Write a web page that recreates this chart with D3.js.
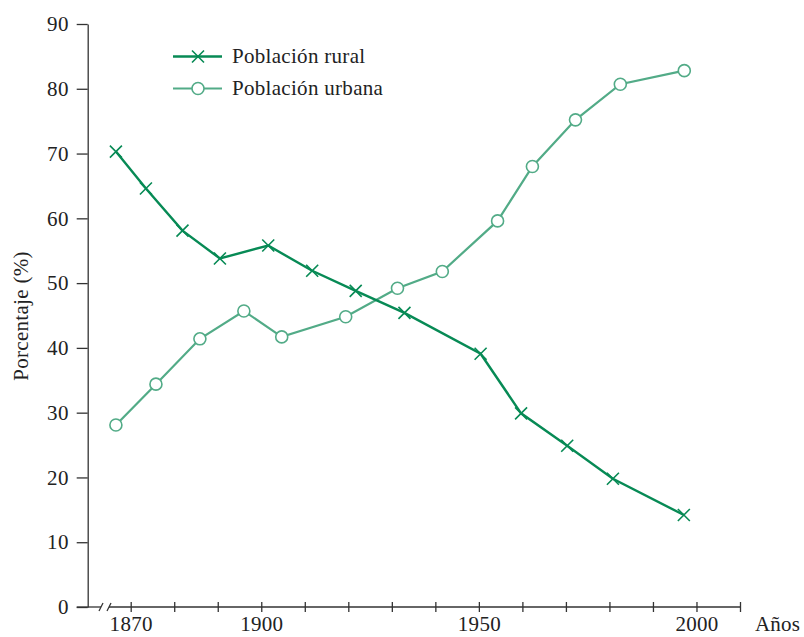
<!DOCTYPE html>
<html><head><meta charset="utf-8">
<script src="https://cdn.jsdelivr.net/npm/d3@7"></script>
<style>body{margin:0;background:#fff}svg text{font-family:"Liberation Serif","DejaVu Serif",serif;fill:#222;letter-spacing:0.3px}</style>
</head><body><svg id="c" width="804" height="637"></svg>
<script>
const yearsRural = [1866.6, 1873.5, 1881.9, 1890.5, 1901.6, 1911.7, 1921.7, 1932.9, 1950.4, 1959.7, 1970.3, 1980.8, 1997.1];
const rural      = [70.3, 64.6, 58.1, 53.8, 55.8, 51.9, 48.8, 45.4, 39.1, 29.9, 24.9, 19.8, 14.2];
const yearsUrban = [1866.6, 1875.8, 1885.9, 1896.0, 1904.7, 1919.4, 1931.3, 1941.6, 1954.3, 1962.3, 1972.2, 1982.5, 1997.2];
const urban      = [28.1, 34.4, 41.4, 45.7, 41.7, 44.8, 49.2, 51.8, 59.6, 68.0, 75.2, 80.7, 82.8];
const xTicks = [1870,1880,1890,1900,1910,1920,1930,1940,1950,1960,1970,1980,1990,2000,2010];
const xLabels = [1870,1900,1950,2000];
const yTicks = [0,10,20,30,40,50,60,70,80,90];
const seriesNames = ["Población rural","Población urbana"];
const ruralColor = "#078a55", urbanColor = "#52ab87", axisColor = "#333";
const fs = 21;

const svg = d3.select("#c");
const x = d3.scaleLinear().domain([1870,2010]).range([130.7,740]);
const y = d3.scaleLinear().domain([0,90]).range([607,24]);
const axisX0 = 87.7;

// y axis
const gy = svg.append("g").attr("transform",`translate(${axisX0},0)`)
  .call(d3.axisLeft(y).tickValues(yTicks).tickSize(11).tickPadding(8).tickSizeOuter(0));
gy.select(".domain").attr("stroke",axisColor).attr("stroke-width",1.3);
gy.selectAll(".tick line").attr("stroke",axisColor).attr("stroke-width",1.3);
gy.selectAll("text").attr("font-size",fs).attr("font-family","Liberation Serif").attr("fill","#222");

// x axis
const y0 = y(0);
svg.append("line").attr("x1",76.7).attr("x2",101).attr("y1",y0).attr("y2",y0).attr("stroke",axisColor).attr("stroke-width",1.3);
svg.append("line").attr("x1",109).attr("x2",x(2010)).attr("y1",y0).attr("y2",y0).attr("stroke",axisColor).attr("stroke-width",1.3);
[101,109].forEach(b=>svg.append("line").attr("x1",b-2).attr("x2",b+2).attr("y1",y0+4).attr("y2",y0-4).attr("stroke",axisColor).attr("stroke-width",1.3));
const gx = svg.append("g").attr("transform",`translate(0,${y0-5})`)
  .call(d3.axisBottom(x).tickValues(xTicks).tickSize(10).tickSizeOuter(0)
    .tickFormat(d=>xLabels.includes(d)?String(d):""));
gx.select(".domain").remove();
gx.selectAll(".tick line").attr("stroke",axisColor).attr("stroke-width",1.3);
gx.selectAll("text").attr("font-size",fs).attr("font-family","Liberation Serif").attr("fill","#222").attr("dy",0).attr("y",29);

svg.append("text").attr("x",755).attr("y",631).attr("font-size",fs).style("letter-spacing","0.2px").text("Años");
svg.append("text").attr("transform","translate(28,316) rotate(-90)").attr("text-anchor","middle").attr("font-size",fs).text("Porcentaje (%)");

const line = d3.line().x(d=>x(d[0])).y(d=>y(d[1]));
const rd = yearsRural.map((t,i)=>[t,rural[i]]);
const ud = yearsUrban.map((t,i)=>[t,urban[i]]);

svg.append("path").datum(ud).attr("d",line).attr("fill","none").attr("stroke",urbanColor).attr("stroke-width",2.2);
svg.append("path").datum(rd).attr("d",line).attr("fill","none").attr("stroke",ruralColor).attr("stroke-width",2.4);

function cross(g,cx,cy){
  const s=6;
  g.append("path").attr("d",`M${cx-s},${cy-s}L${cx+s},${cy+s}M${cx-s},${cy+s}L${cx+s},${cy-s}`)
   .attr("stroke",ruralColor).attr("stroke-width",1.6).attr("fill","none");
}
function circ(g,cx,cy){
  g.append("circle").attr("cx",cx).attr("cy",cy).attr("r",6).attr("fill","#fff").attr("stroke",urbanColor).attr("stroke-width",1.6);
}
const gm = svg.append("g");
ud.forEach(d=>circ(gm,x(d[0]),y(d[1])));
rd.forEach(d=>cross(gm,x(d[0]),y(d[1])));

// legend
const lg = svg.append("g");
lg.append("line").attr("x1",173).attr("x2",222).attr("y1",56.5).attr("y2",56.5).attr("stroke",ruralColor).attr("stroke-width",2.4);
cross(lg,198,56.5);
lg.append("text").attr("x",232).attr("y",62.5).attr("font-size",fs).text(seriesNames[0]);
lg.append("line").attr("x1",173).attr("x2",222).attr("y1",88.5).attr("y2",88.5).attr("stroke",urbanColor).attr("stroke-width",2.2);
circ(lg,198,88.5);
lg.append("text").attr("x",232).attr("y",94.5).attr("font-size",fs).text(seriesNames[1]);
</script></body></html>
